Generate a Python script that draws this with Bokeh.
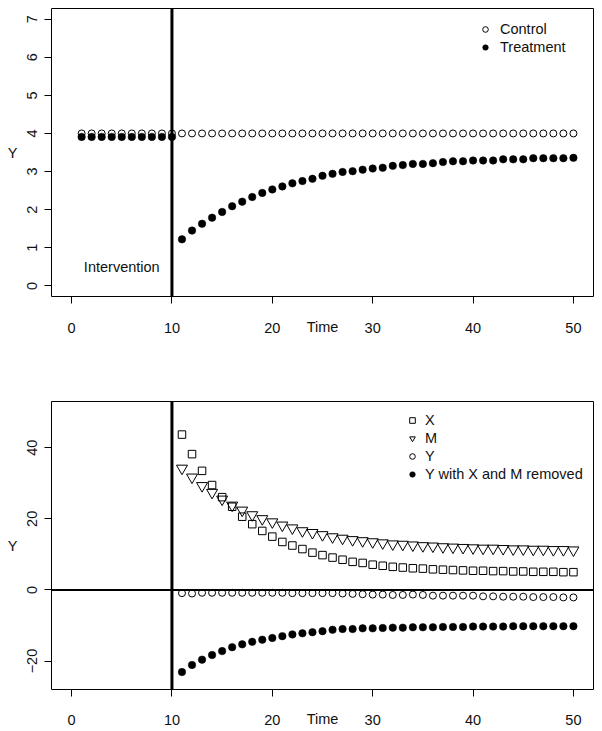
from bokeh.plotting import figure
from bokeh.models import Span, Label, Legend, LegendItem, FixedTicker, Range1d, ColumnDataSource
from bokeh.layouts import column
from bokeh.embed import file_html
from bokeh.resources import INLINE

# ---------------- data ----------------
time_all = list(range(1, 51))
time_post = list(range(11, 51))

control = [4.0, 4.0, 4.0, 4.0, 4.0, 4.0, 4.0, 4.0, 4.0, 4.0,
           4.0, 4.0, 4.0, 4.0, 4.0, 4.0, 4.0, 4.0, 4.0, 4.0,
           4.0, 4.0, 4.0, 4.0, 4.0, 4.0, 4.0, 4.0, 4.0, 4.0,
           4.0, 4.0, 4.0, 4.0, 4.0, 4.0, 4.0, 4.0, 4.0, 4.0,
           4.0, 4.0, 4.0, 4.0, 4.0, 4.0, 4.0, 4.0, 4.0, 4.0]
treatment = [3.91, 3.91, 3.91, 3.91, 3.91, 3.91, 3.91, 3.91, 3.91, 3.91,
             1.22, 1.45, 1.63, 1.79, 1.94, 2.09, 2.21, 2.33, 2.44, 2.53,
             2.61, 2.69, 2.75, 2.81, 2.89, 2.94, 2.99, 3.01, 3.05, 3.08,
             3.10, 3.15, 3.17, 3.20, 3.20, 3.22, 3.25, 3.27, 3.27, 3.29,
             3.29, 3.29, 3.32, 3.32, 3.32, 3.35, 3.35, 3.35, 3.35, 3.36]

x_series = [43.7, 38.2, 33.5, 29.5, 26.1, 23.4, 20.6, 18.5, 16.6, 15.0,
            13.5, 12.5, 11.5, 10.5, 9.8, 9.1, 8.5, 7.9, 7.6, 7.1,
            6.8, 6.5, 6.3, 6.1, 6.0, 5.8, 5.7, 5.6, 5.5, 5.4,
            5.4, 5.3, 5.3, 5.2, 5.2, 5.1, 5.1, 5.1, 5.0, 5.0]
m_series = [34.2, 31.7, 29.3, 27.4, 25.5, 23.8, 22.4, 21.1, 20.0, 19.1,
            18.2, 17.4, 16.6, 16.1, 15.5, 14.9, 14.5, 14.1, 13.8, 13.5,
            13.2, 12.9, 12.8, 12.6, 12.4, 12.3, 12.1, 12.0, 11.9, 11.8,
            11.7, 11.7, 11.6, 11.5, 11.5, 11.4, 11.4, 11.3, 11.3, 11.2]
y_series = [-0.9, -1.0, -0.8, -0.8, -0.8, -0.8, -0.8, -0.8, -0.8, -0.8,
            -0.8, -0.9, -0.9, -0.9, -0.9, -0.9, -1.0, -1.1, -1.2, -1.3,
            -1.3, -1.4, -1.4, -1.3, -1.4, -1.6, -1.6, -1.6, -1.6, -1.6,
            -1.8, -1.8, -1.9, -1.9, -1.9, -2.0, -2.0, -2.0, -2.1, -2.1]
y_removed = [-23.1, -21.1, -19.6, -18.3, -17.2, -16.1, -15.3, -14.6, -14.0, -13.5,
             -13.0, -12.5, -12.2, -11.9, -11.6, -11.2, -11.0, -11.0, -10.8, -10.8,
             -10.7, -10.6, -10.6, -10.5, -10.5, -10.5, -10.4, -10.4, -10.4, -10.3,
             -10.3, -10.3, -10.3, -10.2, -10.2, -10.2, -10.2, -10.2, -10.2, -10.2]

x_ticks = [0, 10, 20, 30, 40, 50]
top_y_ticks = [0, 1, 2, 3, 4, 5, 6, 7]
bottom_y_ticks = [-20, 0, 20, 40]
intervention_time = 10

FONT = "Liberation Sans"
FS = "14.5px"


def style(p, yticks, tick_standoff, label_standoff):
    p.outline_line_color = "black"
    p.outline_line_width = 1
    p.grid.visible = False
    p.background_fill_color = "white"
    p.border_fill_color = "white"
    xa = p.xaxis[0]
    ya = p.yaxis[0]
    xa.ticker = FixedTicker(ticks=x_ticks)
    ya.ticker = FixedTicker(ticks=yticks)
    for ax in (xa, ya):
        ax.axis_line_color = None
        ax.major_tick_in = 0
        ax.major_tick_out = 7
        ax.major_tick_line_color = "black"
        ax.minor_tick_line_color = None
        ax.major_label_text_font = FONT
        ax.major_label_text_font_size = FS
        ax.major_label_text_color = "#111111"
        ax.axis_label_text_font = FONT
        ax.axis_label_text_font_size = FS
        ax.axis_label_text_font_style = "normal"
        ax.axis_label_text_color = "#111111"
    xa.major_label_standoff = tick_standoff
    xa.axis_label = "Time"
    xa.axis_label_standoff = label_standoff
    ya.major_label_orientation = "vertical"
    ya.major_label_standoff = 7
    ya.axis_label = "Y"
    ya.axis_label_orientation = "horizontal"
    ya.axis_label_standoff = 7


# ---------------- top panel ----------------
p1 = figure(width=602, height=358, x_range=Range1d(-2, 52), y_range=Range1d(-0.28, 7.28),
            min_border_left=51, min_border_right=9, min_border_top=8, min_border_bottom=62,
            output_backend="svg", toolbar_location=None)
style(p1, top_y_ticks, 19, -17)

src_top = ColumnDataSource(dict(t=time_all, control=control, treatment=treatment))
r_ctrl = p1.scatter("t", "control", source=src_top, marker="circle", size=7,
                    fill_color=None, line_color="black", line_width=1)
r_trt = p1.scatter("t", "treatment", source=src_top, marker="circle", size=7.5,
                   fill_color="black", line_color="black", line_width=0.5)
p1.add_layout(Span(location=intervention_time, dimension="height", line_color="black", line_width=3))
p1.add_layout(Label(x=5, y=0.5, text="Intervention", text_align="center", text_baseline="middle",
                    text_font=FONT, text_font_size=FS, text_color="#111111"))
leg1 = Legend(items=[LegendItem(label="Control", renderers=[r_ctrl]),
                     LegendItem(label="Treatment", renderers=[r_trt])],
              location=(427, 240), border_line_color=None, background_fill_alpha=0,
              padding=0, margin=0, spacing=0, glyph_width=14, glyph_height=18, label_height=18,
              label_standoff=8, label_text_font=FONT, label_text_font_size=FS,
              label_text_color="#111111")
p1.add_layout(leg1)

# ---------------- bottom panel ----------------
p2 = figure(width=602, height=373, x_range=Range1d(-2, 52), y_range=Range1d(-28, 53),
            min_border_left=51, min_border_right=9, min_border_top=43, min_border_bottom=42,
            output_backend="svg", toolbar_location=None)
style(p2, bottom_y_ticks, 18, -17)

src_bot = ColumnDataSource(dict(t=time_post, xs=x_series, ms=m_series, ys=y_series, yr=y_removed))
p2.add_layout(Span(location=intervention_time, dimension="height", line_color="black", line_width=3))
p2.add_layout(Span(location=0, dimension="width", line_color="black", line_width=2))
r_x = p2.scatter("t", "xs", source=src_bot, marker="square", size=7.5,
                 fill_color=None, line_color="black", line_width=1)
r_m = p2.scatter("t", "ms", source=src_bot, marker="inverted_triangle", size=11,
                 fill_color=None, line_color="black", line_width=1)
r_y = p2.scatter("t", "ys", source=src_bot, marker="circle", size=7,
                 fill_color=None, line_color="black", line_width=1)
r_yr = p2.scatter("t", "yr", source=src_bot, marker="circle", size=7.5,
                  fill_color="black", line_color="black", line_width=0.5)
leg2 = Legend(items=[LegendItem(label="X", renderers=[r_x]),
                     LegendItem(label="M", renderers=[r_m]),
                     LegendItem(label="Y", renderers=[r_y]),
                     LegendItem(label="Y with X and M removed", renderers=[r_yr])],
              location=(354, 206), border_line_color=None, background_fill_alpha=0,
              padding=0, margin=0, spacing=0, glyph_width=14, glyph_height=18, label_height=18,
              label_standoff=6, label_text_font=FONT, label_text_font_size=FS,
              label_text_color="#111111")
p2.add_layout(leg2)

layout = column(p1, p2, spacing=0)
open("out.html", "w").write(file_html(layout, INLINE))
